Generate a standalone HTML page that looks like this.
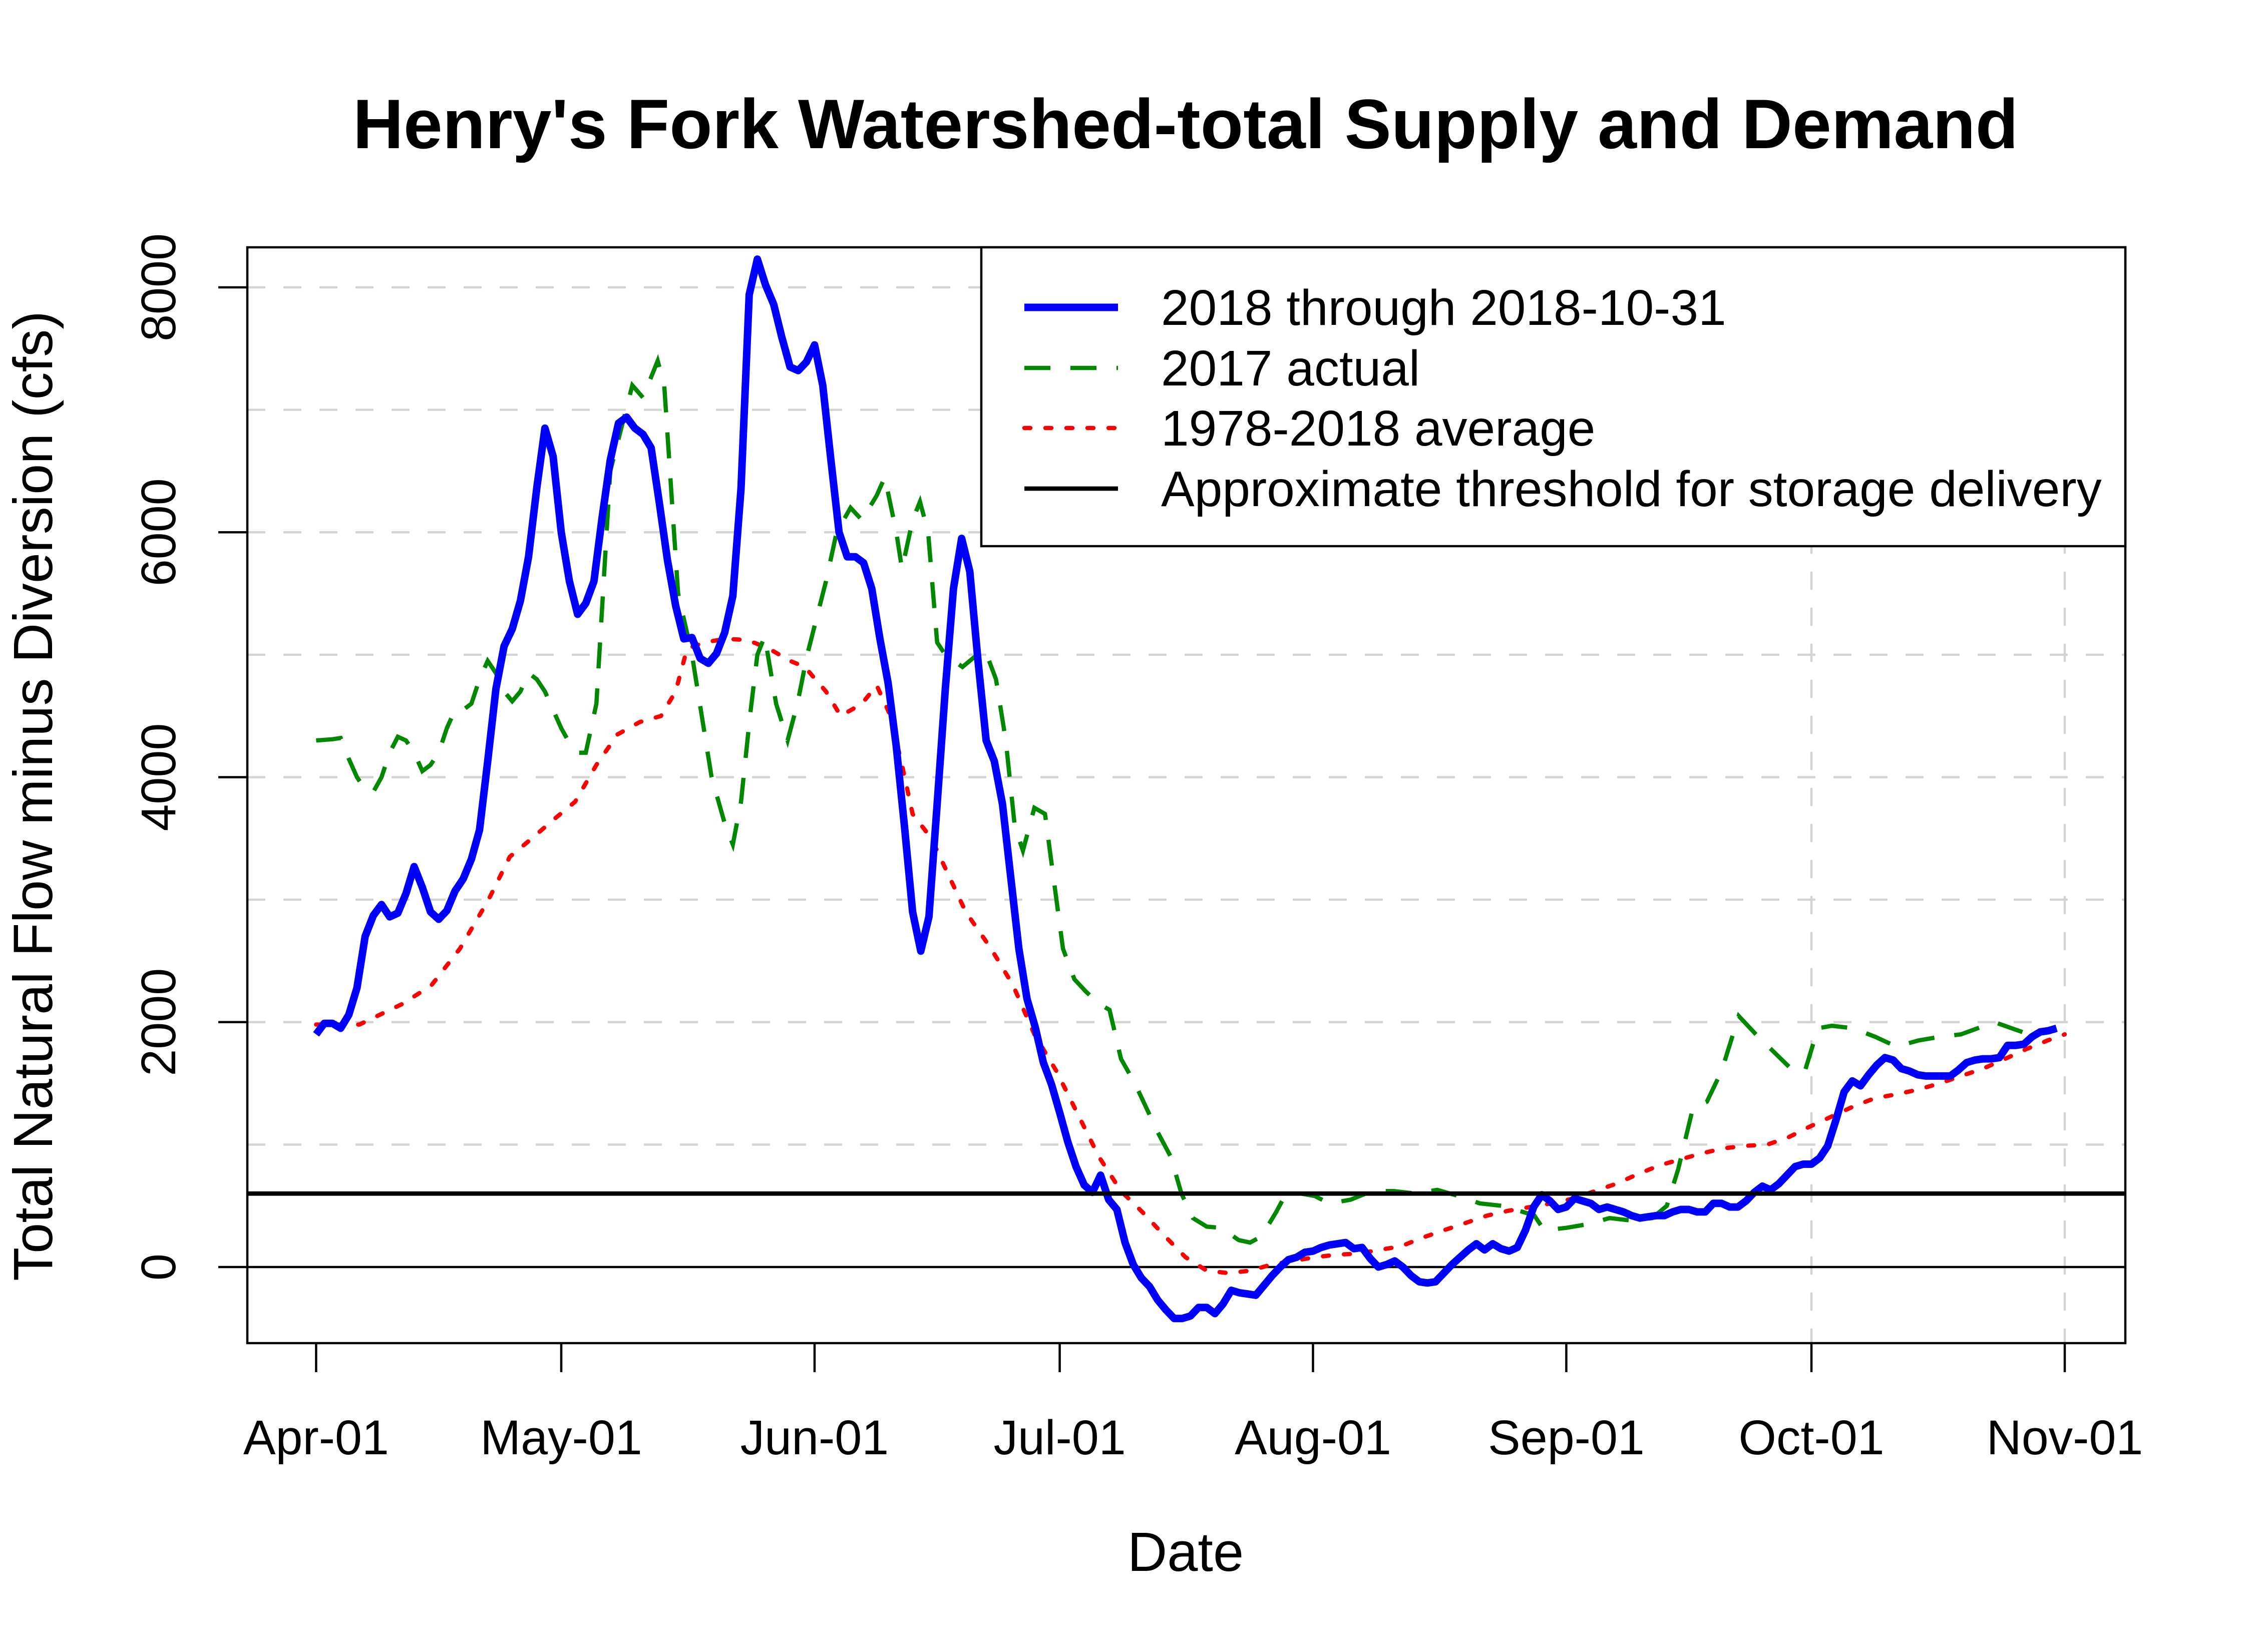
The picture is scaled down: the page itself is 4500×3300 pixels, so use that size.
<!DOCTYPE html>
<html><head><meta charset="utf-8">
<style>
html,body{margin:0;padding:0;background:#fff;}
svg{display:block;font-family:"Liberation Sans",Arial,sans-serif;}
</style></head>
<body>
<svg id="chart" width="4500" height="3300" viewBox="0 0 4500 3300" xmlns="http://www.w3.org/2000/svg">
<rect x="0" y="0" width="4500" height="3300" fill="#fff"/>
<text x="2368" y="296" font-size="140" font-weight="bold" text-anchor="middle">Henry's Fork Watershed-total Supply and Demand</text>
<text transform="translate(104,1590) rotate(-90)" font-size="110" text-anchor="middle">Total Natural Flow minus Diversion (cfs)</text>
<text x="2368" y="3138" font-size="110" text-anchor="middle">Date</text>
<g id="grid"></g>
<g id="series"></g>
<g id="axes"></g>
<g id="legend"></g>
</svg>
<script>
// ---- data ----
const xTickLabels = ["Apr-01","May-01","Jun-01","Jul-01","Aug-01","Sep-01","Oct-01","Nov-01"];
const xTickDays = [0,30,61,91,122,153,183,214];
const yTickValues = [0,2000,4000,6000,8000];
const yGridValues = [1000,2000,3000,4000,5000,6000,7000,8000];
const vGridDays = [183,214];
const thresholdValue = 600;

const flow2018 = [1900,1990,1990,1950,2060,2280,2700,2870,2960,2860,2890,3050,3270,3100,2900,2840,2910,3070,3170,3330,
3570,4130,4720,5070,5210,5440,5800,6360,6850,6620,6000,5600,5330,5420,5600,6120,6590,6890,6940,6850,
6800,6690,6240,5770,5400,5130,5140,4970,4930,5010,5180,5480,6360,7940,8230,8020,7860,7590,7350,7320,
7390,7530,7200,6590,6000,5800,5800,5750,5540,5130,4770,4250,3600,2900,2580,2860,3780,4720,5540,5950,
5680,4950,4300,4130,3780,3190,2600,2190,1960,1670,1490,1260,1020,820,670,610,750,550,470,200,
20,-90,-160,-270,-350,-420,-420,-400,-330,-330,-380,-300,-190,-210,-220,-230,-150,-70,0,60,
80,120,130,160,180,190,200,150,160,70,0,20,50,0,-70,-120,-130,-120,-50,20,
80,140,190,140,190,150,130,160,300,490,590,540,470,490,560,540,520,470,490,470,
450,420,400,410,420,420,450,470,470,450,450,520,520,490,490,540,610,660,630,680,
750,820,840,840,890,990,1200,1430,1520,1480,1570,1650,1710,1690,1620,1600,1570,1560,1560,1560,
1560,1610,1670,1690,1700,1700,1710,1810,1810,1820,1880,1920,1930,1950];

const days2017 = [0,2,3,4,5,6,7,8,9,10,11,12,13,14,15,16,17,18,19,20,21,22,23,24,25,26,27,28,29,30,31,32,33,34.3,36,38.7,40,41.8,42.6,44.3,46,48.4,50.1,51,52,53.1,54,54.9,56.3,57.7,58.9,60.1,62.4,63.7,65.4,66.8,68.6,69.6,71,71.7,73,73.9,74.9,76,77,79.1,81.8,83.2,84.4,85.5,86.5,87.9,89.2,90.2,91.4,92.8,94.2,95.8,97.1,98.5,100.2,101.6,103,104.6,105.9,107.3,109,110.8,112.9,114.3,115.7,117.5,118.7,120.5,122.2,124,126.6,129.2,131.9,134.5,137.2,139.8,142.4,145.1,147.7,149.1,150.3,153,155.6,158.3,160.9,163.5,165.3,166.7,168.5,170.2,172,174.1,176.2,178.5,180.8,182.2,183.8,185.5,188.1,190.8,193.4,196.1,198.7,201.3,205.4,207.5,209.6,212.8];
const flow2017 = [4300,4310,4320,4150,4000,3900,3880,4000,4200,4330,4300,4200,4050,4100,4200,4400,4550,4550,4600,4800,4950,4850,4700,4620,4700,4850,4800,4700,4550,4400,4280,4200,4200,4600,6500,7200,7100,7400,7200,5500,5000,4000,3600,3450,3800,4500,5000,5150,4600,4300,4600,5000,5600,6000,6200,6100,6300,6450,6000,5700,6100,6250,6000,5100,5000,4900,5050,4800,4300,3600,3400,3750,3700,3200,2600,2350,2250,2150,2100,1700,1500,1300,1100,900,600,400,330,320,220,200,250,450,600,600,580,520,550,620,620,600,630,580,520,500,450,420,300,320,350,400,380,400,500,800,1300,1350,1600,2050,1900,1750,1600,1600,1950,1970,1950,1880,1800,1850,1880,1900,2000,1950,1900,1930];

const daysAvg = [0,5.3,10.6,14.1,17.6,21.1,23.7,26.4,29,31.7,34.3,36.9,39.6,42.2,44,45.4,47.5,50.1,52.8,55.4,58,59.8,62.4,64.2,66.8,68.6,70.3,71.7,73,75.3,77.4,79.5,82.6,85.3,87.9,90.6,93.2,95.8,98.5,101.1,103.9,106.4,109,111.7,114.3,116.9,119.6,122.2,124.8,127.5,130.1,132.8,135.4,138,140.7,143.3,145.9,148.6,151.2,153.9,156.5,159.1,161.8,164.4,167,169.7,172.3,175,177.6,180.2,182.9,185.5,188.1,190.8,193.4,196.1,198.7,201.3,204,206.7,209.3,211.9,214];
const flowAvg = [1980,1980,2150,2300,2600,3000,3350,3500,3650,3800,4100,4350,4450,4500,4700,5050,5100,5130,5120,5050,4950,4900,4700,4500,4600,4750,4500,4100,3700,3500,3200,2900,2600,2300,1900,1600,1250,900,620,450,250,80,-30,-50,-30,20,50,80,100,110,140,170,240,300,360,420,460,490,520,560,620,680,760,830,880,930,970,990,1000,1060,1150,1230,1310,1380,1410,1450,1500,1560,1620,1700,1780,1850,1900];

// ---- scales ----
const PL=494, PR=4245, PT=494, PB=2683;
const X0=631.4, X1=4124, D1=214;
const Y0=2531, Y8=574;
function xs(d){return X0+(X1-X0)*d/D1;}
function ys(v){return Y0+(Y8-Y0)*v/8000;}
const NS="http://www.w3.org/2000/svg";
function mk(tag,attrs,parent){const e=document.createElementNS(NS,tag);for(const k in attrs)e.setAttribute(k,attrs[k]);parent.appendChild(e);return e;}
const grid=document.getElementById('grid'), series=document.getElementById('series'), axes=document.getElementById('axes'), legend=document.getElementById('legend');

yGridValues.forEach(v=>{
  const l=mk('line',{x1:PL,x2:PR,y1:ys(v),y2:ys(v),stroke:'#d3d3d3','stroke-width':4.5,'stroke-dasharray':'36,36'},grid);
  
  
});
vGridDays.forEach(d=>{
  const l=mk('line',{x1:xs(d),x2:xs(d),y1:PT,y2:PB,stroke:'#d3d3d3','stroke-width':4.5,'stroke-dasharray':'36,36'},grid);
  
  
});
const zl=mk('line',{x1:PL,x2:PR,y1:ys(0),y2:ys(0),stroke:'#000','stroke-width':4.5},grid);



function pts(ds,vs){return vs.map((v,i)=>xs(ds[i]).toFixed(1)+','+ys(v).toFixed(1)).join(' ');}
const dAvg=mk('polyline',{points:pts(daysAvg,flowAvg),fill:'none',stroke:'#ff0000','stroke-width':8.5,'stroke-dasharray':'12,30','stroke-linecap':'round'},series);


const d17=mk('polyline',{points:pts(days2017,flow2017),fill:'none',stroke:'#008800','stroke-width':8.5,'stroke-dasharray':'52,40'},series);


const days2018=flow2018.map((v,i)=>i*213/(flow2018.length-1));
const d18=mk('polyline',{points:pts(days2018,flow2018),fill:'none',stroke:'#0000ff','stroke-width':15,'stroke-linejoin':'round'},series);


const th=mk('line',{x1:PL,x2:PR,y1:ys(thresholdValue),y2:ys(thresholdValue),stroke:'#000','stroke-width':8.7},series);



const box=mk('rect',{x:PL,y:PT,width:PR-PL,height:PB-PT,fill:'none',stroke:'#000','stroke-width':4.5},axes);


xTickDays.forEach((d,i)=>{
  const t=mk('line',{x1:xs(d),x2:xs(d),y1:PB,y2:PB+58,stroke:'#000','stroke-width':4.5},axes);
  
  
  const tx=mk('text',{x:xs(d),y:2905,'font-size':97,'text-anchor':'middle'},axes);
  tx.textContent=xTickLabels[i];
  
  
});
yTickValues.forEach(v=>{
  const t=mk('line',{x1:PL,x2:PL-58,y1:ys(v),y2:ys(v),stroke:'#000','stroke-width':4.5},axes);
  
  
  const tx=mk('text',{transform:`translate(350,${ys(v)}) rotate(-90)`,'font-size':97,'text-anchor':'middle'},axes);
  tx.textContent=String(v);
  
  
});

// legend
const lb=mk('rect',{x:1960,y:PT,width:PR-1960,height:597,fill:'#fff',stroke:'#000','stroke-width':4.5},legend);


const legLabels=["2018 through 2018-10-31","2017 actual","1978-2018 average","Approximate threshold for storage delivery"];
const legStyles=[{stroke:'#0000ff','stroke-width':15},{stroke:'#008800','stroke-width':8.5,'stroke-dasharray':'52,40'},{stroke:'#ff0000','stroke-width':8.5,'stroke-dasharray':'12,30','stroke-linecap':'round'},{stroke:'#000','stroke-width':8.7}];
const legRows=[614,735,855,976];
legLabels.forEach((lab,i)=>{
  const a=Object.assign({x1:2046,x2:2233,y1:legRows[i],y2:legRows[i]},legStyles[i]);
  const l=mk('line',a,legend);
  
  
  const t=mk('text',{x:2319,y:legRows[i]+35,'font-size':100},legend);
  t.textContent=lab;
  
  
});
</script>
</body></html>
